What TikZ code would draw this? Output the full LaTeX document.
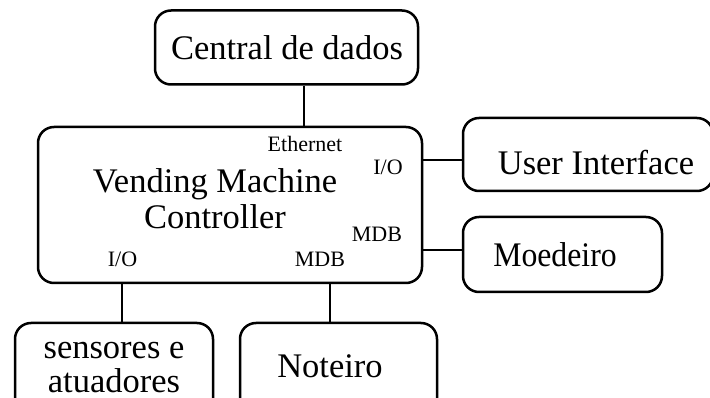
\documentclass[tikz,border=0pt]{standalone}
\usepackage{fontspec}
\setmainfont{Liberation Serif}
\begin{document}
\begin{tikzpicture}[x=1pt,y=-1pt,
  blk/.style={draw, line width=2.5pt, rounded corners=16pt, rectangle, inner sep=0pt},
  big/.style={font=\fontsize{34.5}{36}\selectfont, inner sep=0pt, align=center},
  small/.style={font=\fontsize{22}{24}\selectfont, inner sep=0pt, anchor=base},
  wire/.style={line width=2.5pt}]
\useasboundingbox (0,0) rectangle (710,398);
% boxes
\node[blk, minimum width=263pt, minimum height=74pt] (central) at (286.5,47.5) {};
\node[blk, minimum width=384pt, minimum height=156pt] (vmc) at (230,205) {};
\node[blk, minimum width=250pt, minimum height=73pt] (ui) at (588,154.5) {};
\node[blk, minimum width=199pt, minimum height=75pt] (moed) at (562.5,254.5) {};
\node[blk, minimum width=198pt, minimum height=110pt] (sens) at (114,378) {};
\node[blk, minimum width=197pt, minimum height=110pt] (note) at (338.5,378) {};
% texts
\node[big, anchor=base] (tcentral) at (287,60) {Central de dados};
\node[big] (tvmc) at (215,199) {Vending Machine\\Controller};
\node[big, anchor=base] (tui) at (596,175) {User Interface};
\node[big, anchor=base] (tmoed) at (555,267) {\scalebox{0.92}[1]{Moedeiro}};
\node[big, anchor=base] (tsens1) at (114,358) {sensores e};
\node[big, anchor=base] (tsens2) at (114,392) {atuadores};
\node[big, anchor=base] (tnote) at (330,377) {Noteiro};
% port labels
\node[small] (leth) at (305,152) {Ethernet};
\node[small] (lio1) at (388,175) {I/O};
\node[small] (lmdb1) at (377,242) {MDB};
\node[small] (lio2) at (122.5,267) {I/O};
\node[small] (lmdb2) at (320,267) {MDB};
% connectors
\draw[wire] (304,0 |- central.south) -- (304,0 |- vmc.north);
\draw[wire] (vmc.east |- 0,160) -- (ui.west |- 0,160);
\draw[wire] (vmc.east |- 0,250) -- (moed.west |- 0,250);
\draw[wire] (122,0 |- vmc.south) -- (122,0 |- sens.north);
\draw[wire] (330,0 |- vmc.south) -- (330,0 |- note.north);
\end{tikzpicture}
\end{document}
